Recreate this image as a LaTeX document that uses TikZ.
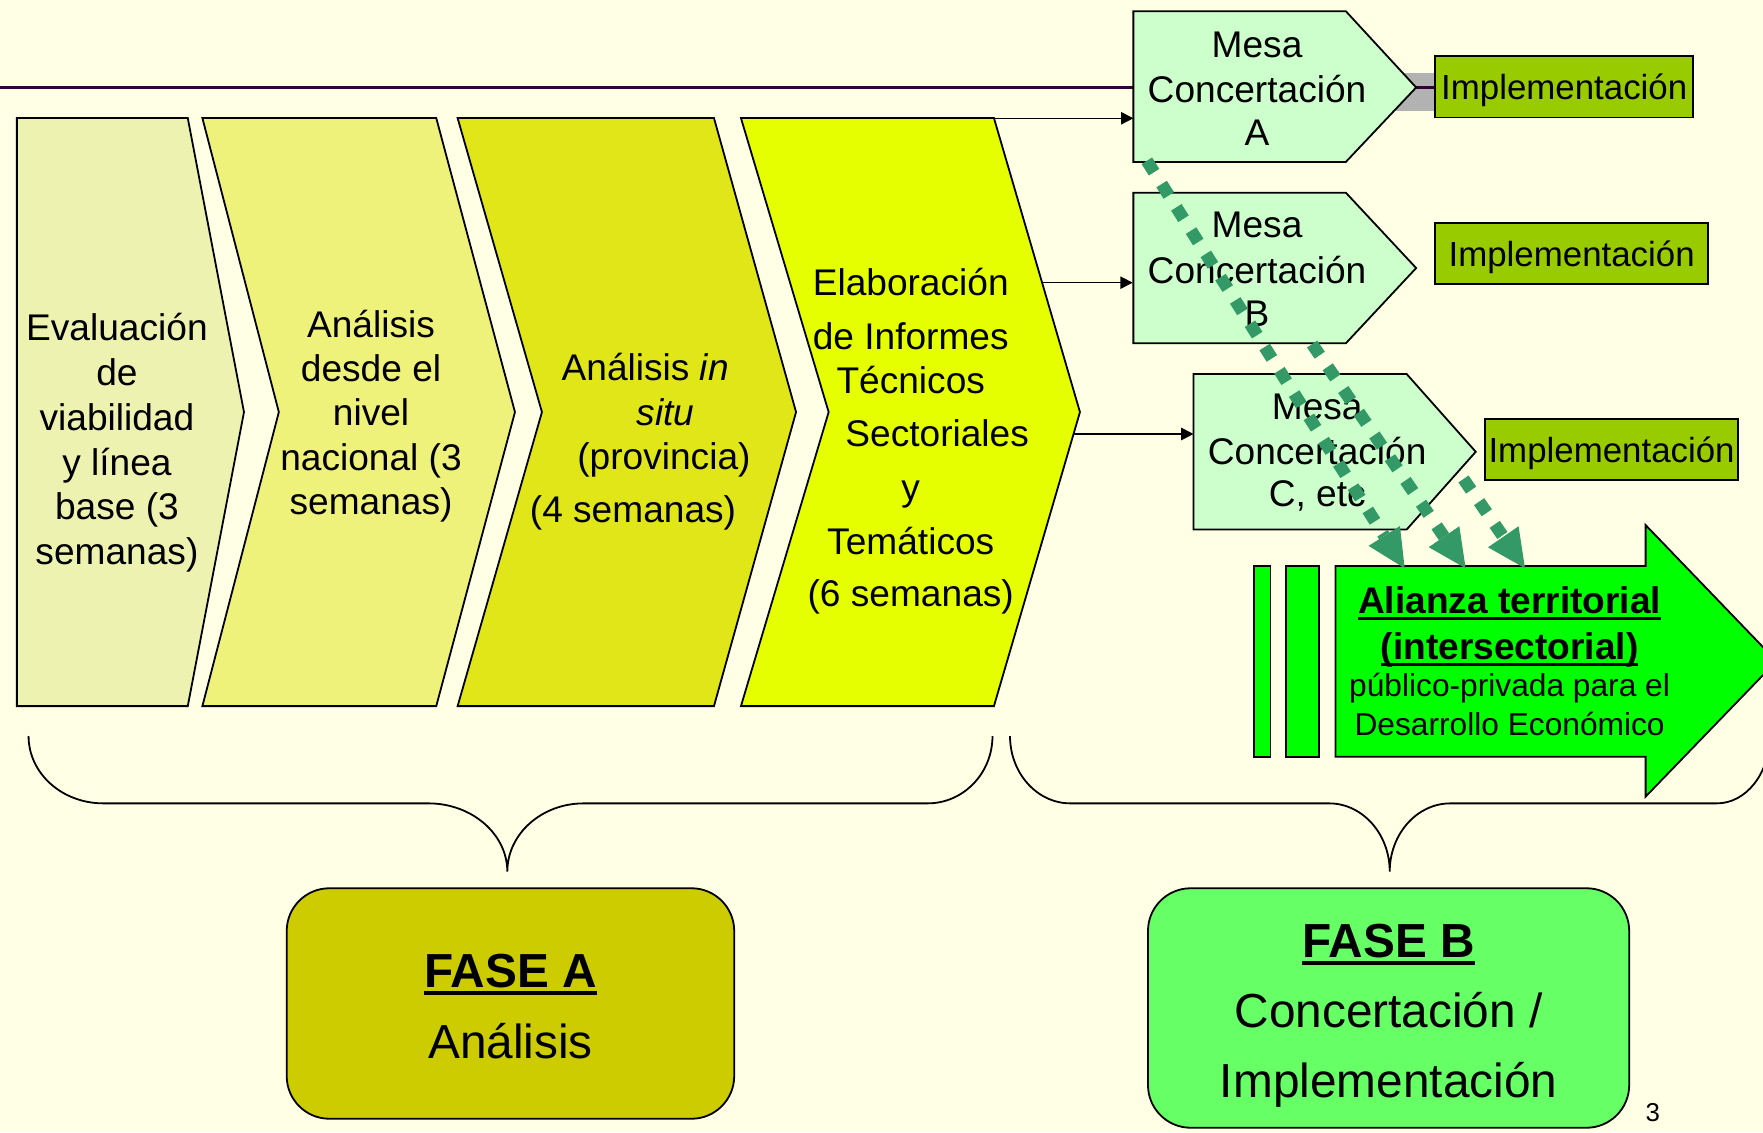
\documentclass[tikz,border=0pt]{standalone}
\usepackage{fontspec}
\setmainfont{Liberation Sans}
\usetikzlibrary{arrows.meta}
\definecolor{bgcol}{RGB}{255,255,229}
\definecolor{chevA}{RGB}{237,242,176}
\definecolor{chevB}{RGB}{238,242,122}
\definecolor{chevC}{RGB}{225,230,25}
\definecolor{chevD}{RGB}{229,255,0}
\definecolor{mesacol}{RGB}{204,255,204}
\definecolor{implcol}{RGB}{153,204,0}
\definecolor{faseAcol}{RGB}{204,204,0}
\definecolor{faseBcol}{RGB}{102,255,102}
\definecolor{alicol}{RGB}{0,255,0}
\definecolor{dotcol}{RGB}{51,153,102}
\definecolor{graycol}{RGB}{178,178,178}
\definecolor{purplecol}{RGB}{51,0,51}
\newsavebox\ulbx
\newcommand\myul[3]{\sbox\ulbx{#3}\rlap{\rule[-#1]{\wd\ulbx}{#2}}\usebox\ulbx}
\begin{document}
\begin{tikzpicture}[x=1pt,y=-1pt,
  outline/.style={draw=black, line width=1.6pt, line join=miter},
  txt/.style={inner sep=0pt, outer sep=0pt, anchor=base, font=\fontsize{33}{40}\selectfont},
  impltxt/.style={outline, fill=implcol, inner sep=0pt, text height=23pt, text depth=0pt, font=\fontsize{31}{36}\selectfont},
  alib/.style={inner sep=0pt, outer sep=0pt, anchor=base, font=\fontsize{33}{40}\selectfont\bfseries},
  alir/.style={inner sep=0pt, outer sep=0pt, anchor=base, font=\fontsize{28.2}{34}\selectfont},
  fase/.style={inner sep=0pt, outer sep=0pt, anchor=base, font=\fontsize{42.5}{50}\selectfont},
  conn/.style={line width=1.3pt, -{Triangle[length=11pt,width=11pt]}},
  dotarrow/.style={draw=dotcol, line width=11pt, dash pattern=on 12pt off 12.5pt, -{Triangle[length=34pt,width=33pt,line width=0pt]}},
  brace/.style={draw=black, line width=1.6pt}
]
\useasboundingbox (0,0) rectangle (1568,1006.8);
\fill[bgcol] (0,0) rectangle (1568,1006.8);

% top line and gray band
\fill[graycol] (1241.6,64.5) rectangle (1277,98.5);
\coordinate (lineL) at (0,77.8);
\coordinate (lineR) at (1276.5,77.8);
\draw[purplecol, line width=2.5pt] (lineL) -- (lineR);

% chevrons
\draw[outline, fill=chevA] (15,105) -- (167,105) -- (217,366.5) -- (167,628) -- (15,628) -- cycle;
\draw[outline, fill=chevB] (180,105) -- (388,105) -- (458,366.5) -- (388,628) -- (180,628) -- (248,366.5) -- cycle;
\draw[outline, fill=chevC] (407,105) -- (635,105) -- (708,366.5) -- (635,628) -- (407,628) -- (482,366.5) -- cycle;
\draw[outline, fill=chevD] (659,105) -- (884,105) -- (960.5,366.5) -- (884,628) -- (659,628) -- (737,366.5) -- cycle;

% chevron texts
\node[txt] (c1t1) at (104,302.8) {Evaluación};
\node[txt] (c1t2) at (104,342.6) {de};
\node[txt] (c1t3) at (104,382.6) {viabilidad};
\node[txt] (c1t4) at (104,422.5) {y línea};
\node[txt] (c1t5) at (104,462.4) {base (3};
\node[txt] (c1t6) at (104,502.0) {semanas)};

\node[txt] (c2t1) at (330,299.8) {Análisis};
\node[txt] (c2t2) at (330,339.7) {desde el};
\node[txt] (c2t3) at (330,378.8) {nivel};
\node[txt] (c2t4) at (330,418.2) {nacional (3};
\node[txt] (c2t5) at (330,457.6) {semanas)};

\node[txt] (c3t1) at (573.8,338) {Análisis \textit{in}};
\node[txt] (c3t2) at (592,378) {\textit{situ}};
\node[txt] (c3t3) at (590.5,418) {(provincia)};
\node[txt] (c3t4) at (563,464.8) {(4 semanas)};

\node[txt] (c4t1) at (810,262.4) {Elaboración};
\node[txt] (c4t2) at (810,310.7) {de Informes};
\node[txt] (c4t3) at (810,350.4) {Técnicos};
\node[txt] (c4t4) at (833.5,397.2) {Sectoriales};
\node[txt] (c4t5) at (810,444.7) {y};
\node[txt] (c4t6) at (810,493.6) {Temáticos};
\node[txt] (c4t7) at (810,539.5) {(6 semanas)};

% braces
\draw[brace] (25.4,654.6) .. controls (25.4,687.7) and (55,714.5) .. (92,714.5)
  -- (381,714.5) .. controls (419.6,714.5) and (451.2,741.7) .. (451.2,775.2)
  .. controls (451.2,741.7) and (481.7,714.5) .. (519.2,714.5)
  -- (825,714.5) .. controls (856.9,714.5) and (882.7,687.7) .. (882.7,654.6);
\draw[brace] (898.3,654.6) .. controls (898.3,687.7) and (922.4,714.5) .. (952,714.5)
  -- (1182,714.5) .. controls (1211.8,714.5) and (1236,741.7) .. (1236,775.2)
  .. controls (1236,741.7) and (1260.2,714.5) .. (1290,714.5)
  -- (1527,714.5) .. controls (1553,714.5) and (1574,687.7) .. (1574,654.6);

% Mesa shapes
\draw[outline, fill=mesacol] (1008,10) -- (1197,10) -- (1259.5,77.8) -- (1197,144) -- (1008,144) -- cycle;
\draw[outline, fill=mesacol] (1008,171.4) -- (1197,171.4) -- (1259.5,238.4) -- (1197,305.3) -- (1008,305.3) -- cycle;
\draw[outline, fill=mesacol] (1061.5,332.6) -- (1251,332.6) -- (1312.5,401.8) -- (1251,471) -- (1061.5,471) -- cycle;

\node[txt] (mAt1) at (1118,51.5) {Mesa};
\node[txt] (mAt2) at (1118,91) {Concertación};
\node[txt] (mAt3) at (1118,129) {A};
\node[txt] (mBt1) at (1118,211.5) {Mesa};
\node[txt] (mBt2) at (1118,252) {Concertación};
\node[txt] (mBt3) at (1118,290.5) {B};
\node[txt] (mCt1) at (1171.5,373.2) {Mesa};
\node[txt] (mCt2) at (1171.5,412.9) {Concertación};
\node[txt] (mCt3) at (1171.5,450.4) {C, etc};

% connectors from chevron 4 to mesas
\coordinate (c4a) at (883.4,105.2);
\coordinate (mAin) at (1008,105.2);
\coordinate (c4b) at (926.4,251.4);
\coordinate (mBin) at (1007.4,251.4);
\coordinate (c4c) at (955.4,386);
\coordinate (mCin) at (1061.5,386);
\draw[conn] (c4a) -- (mAin);
\draw[conn] (c4b) -- (mBin);
\draw[conn] (c4c) -- (mCin);

% implementacion boxes
\node[impltxt, minimum width=229.3pt, minimum height=54.5pt] (implA) at (1391.2,77.3) {Implementación};
\node[impltxt, minimum width=242.5pt, minimum height=54pt] (implB) at (1397.8,225.5) {Implementación};
\node[impltxt, minimum width=225.5pt, minimum height=54.9pt] (implC) at (1433.3,399.8) {Implementación};

% Alianza arrow
\draw[outline, fill=alicol] (1115,503.4) rectangle (1130,673);
\draw[outline, fill=alicol] (1143.7,503.4) rectangle (1173,673);
\draw[outline, fill=alicol] (1187.7,503.4) -- (1463.6,503.4) -- (1463.6,467) -- (1580,588)
  -- (1463.6,708.5) -- (1463.6,673) -- (1187.7,673) -- cycle;
\node[alib] (al1) at (1342.6,545.5) {\myul{6pt}{3pt}{Alianza territorial}};
\node[alib] (al2) at (1342.6,586.4) {\myul{6pt}{3pt}{(intersectorial)}};
\node[alir] (al3) at (1342.6,619.6) {público-privada para el};
\node[alir] (al4) at (1342.6,653.7) {Desarrollo Económico};

% dotted arrows
\coordinate (d1s) at (1020,143);
\coordinate (d1e) at (1249.3,505.4);
\coordinate (d2s) at (1167,306);
\coordinate (d2e) at (1303.5,505.4);
\coordinate (d3s) at (1301.6,426);
\coordinate (d3e) at (1356.3,505.4);
\draw[dotarrow] (d1s) -- (d1e);
\draw[dotarrow] (d2s) -- (d2e);
\draw[dotarrow] (d3s) -- (d3e);

% FASE boxes
\node[outline, fill=faseAcol, rounded corners=38pt, minimum width=398pt, minimum height=205pt, inner sep=0pt] (faseA) at (454,892.5) {};
\node[outline, fill=faseBcol, rounded corners=38pt, minimum width=428pt, minimum height=213pt, inner sep=0pt] (faseB) at (1235,896.5) {};
\node[fase] (fA1) at (454,878) {\bfseries\myul{6.5pt}{3.5pt}{FASE A}};
\node[fase] (fA2) at (454,941) {Análisis};
\node[fase] (fB1) at (1235,852) {\bfseries\myul{6.5pt}{3.5pt}{FASE B}};
\node[fase] (fB2) at (1235,914) {Concertación /};
\node[fase] (fB3) at (1235,976) {Implementación};

\node[inner sep=0pt, anchor=base, font=\fontsize{23}{27}\selectfont] (pagenum) at (1470,997.6) {3};
\end{tikzpicture}
\end{document}
